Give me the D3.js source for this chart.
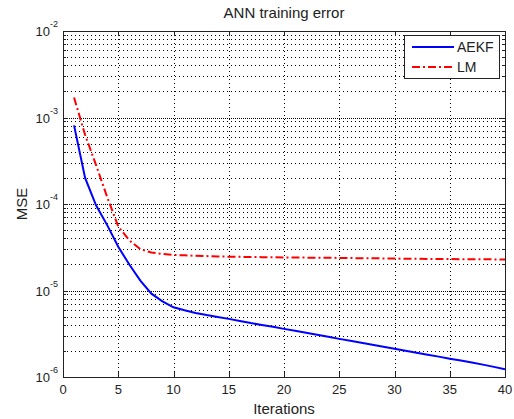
<!DOCTYPE html>
<html>
<head>
<meta charset="utf-8">
<script src="https://cdn.jsdelivr.net/npm/d3@7"></script>
<style>
  body { margin: 0; background: #fff; }
  svg { display: block; font-family: "Liberation Sans", Arial, sans-serif; }
</style>
</head>
<body>
<div id="chart"></div>
<script>
// iterations 1..40
const iterations = [1, 2, 3, 4, 5, 6, 7, 8, 9, 10,
    11, 12, 13, 14, 15, 16, 17, 18, 19, 20,
    21, 22, 23, 24, 25, 26, 27, 28, 29, 30,
    31, 32, 33, 34, 35, 36, 37, 38, 39, 40];

const aekf = [8.1e-4, 2.0e-4, 9.6e-5, 5.7e-5, 3.2e-5, 2.0e-5, 1.3e-5, 9.2e-6, 7.5e-6, 6.4e-6,
    5.9e-6, 5.5e-6, 5.2e-6, 4.95e-6, 4.7e-6, 4.45e-6, 4.2e-6, 4.0e-6, 3.8e-6, 3.6e-6,
    3.42e-6, 3.25e-6, 3.08e-6, 2.92e-6, 2.76e-6, 2.62e-6, 2.49e-6, 2.36e-6, 2.24e-6, 2.12e-6,
    2.01e-6, 1.91e-6, 1.81e-6, 1.72e-6, 1.63e-6, 1.55e-6, 1.47e-6, 1.39e-6, 1.31e-6, 1.23e-6];

const lm = [1.7e-3, 6.3e-4, 2.8e-4, 1.2e-4, 5.5e-5, 3.8e-5, 3.0e-5, 2.75e-5, 2.65e-5, 2.58e-5,
    2.55e-5, 2.52e-5, 2.5e-5, 2.48e-5, 2.46e-5, 2.45e-5, 2.44e-5, 2.43e-5, 2.42e-5, 2.41e-5,
    2.4e-5, 2.4e-5, 2.39e-5, 2.39e-5, 2.38e-5, 2.37e-5, 2.36e-5, 2.36e-5, 2.35e-5, 2.34e-5,
    2.33e-5, 2.33e-5, 2.32e-5, 2.32e-5, 2.31e-5, 2.3e-5, 2.3e-5, 2.29e-5, 2.29e-5, 2.28e-5];

const xTicks = [0, 5, 10, 15, 20, 25, 30, 35, 40];
const yDecades = [-6, -5, -4, -3, -2];
const seriesNames = ["AEKF", "LM"];

const width = 514, height = 419;
const mLeft = 63, mRight = 505, mTop = 31, mBottom = 377;

const svg = d3.select("#chart").append("svg")
    .attr("width", width)
    .attr("height", height);

const x = d3.scaleLinear().domain([0, 40]).range([mLeft, mRight]);
const y = d3.scaleLog().domain([1e-6, 1e-2]).range([mBottom, mTop]);

// minor log positions (2..9 in each decade)
const minor = [];
yDecades.slice(0, -1).forEach(e => {
    for (let k = 2; k <= 9; k++) minor.push(k * Math.pow(10, e));
});
const majors = yDecades.map(e => Math.pow(10, e));

const grid = svg.append("g")
    .attr("stroke", "#000")
    .attr("stroke-width", 1)
    .attr("stroke-dasharray", "1,3");

// horizontal grid
grid.selectAll(".hminor")
    .data(minor.concat(majors))
    .enter().append("line")
    .attr("x1", mLeft).attr("x2", mRight)
    .attr("y1", d => Math.round(y(d)) + 0.5)
    .attr("y2", d => Math.round(y(d)) + 0.5);
grid.selectAll(".hmajor")
    .data(majors)
    .enter().append("line")
    .attr("x1", mLeft + 2).attr("x2", mRight)
    .attr("y1", d => Math.round(y(d)) + 0.5)
    .attr("y2", d => Math.round(y(d)) + 0.5);

// vertical grid
grid.selectAll(".vgrid")
    .data(xTicks.slice(1, -1))
    .enter().append("line")
    .attr("y1", mTop).attr("y2", mBottom)
    .attr("x1", d => Math.round(x(d)) + 0.5)
    .attr("x2", d => Math.round(x(d)) + 0.5);

// ticks (inside, all four sides)
const ticks = svg.append("g").attr("stroke", "#222").attr("stroke-width", 1);
xTicks.forEach(t => {
    const px = Math.round(x(t)) + 0.5;
    ticks.append("line").attr("x1", px).attr("x2", px).attr("y1", mBottom).attr("y2", mBottom - 5);
    ticks.append("line").attr("x1", px).attr("x2", px).attr("y1", mTop).attr("y2", mTop + 5);
});
majors.forEach(v => {
    const py = Math.round(y(v)) + 0.5;
    ticks.append("line").attr("x1", mLeft).attr("x2", mLeft + 5).attr("y1", py).attr("y2", py);
    ticks.append("line").attr("x1", mRight).attr("x2", mRight - 5).attr("y1", py).attr("y2", py);
});
minor.forEach(v => {
    const py = Math.round(y(v)) + 0.5;
    ticks.append("line").attr("x1", mLeft).attr("x2", mLeft + 3).attr("y1", py).attr("y2", py);
    ticks.append("line").attr("x1", mRight).attr("x2", mRight - 3).attr("y1", py).attr("y2", py);
});

// box
svg.append("rect")
    .attr("x", mLeft + 0.5).attr("y", mTop + 0.5)
    .attr("width", mRight - mLeft).attr("height", mBottom - mTop)
    .attr("fill", "none")
    .attr("stroke", "#222");

// lines
const line = d3.line()
    .x((d, i) => x(iterations[i]))
    .y(d => y(d));

svg.append("path")
    .datum(lm)
    .attr("d", line)
    .attr("fill", "none")
    .attr("stroke", "#ff0000")
    .attr("stroke-width", 2)
    .attr("stroke-dasharray", "8,3,2,3");

svg.append("path")
    .datum(aekf)
    .attr("d", line)
    .attr("fill", "none")
    .attr("stroke", "#0000ff")
    .attr("stroke-width", 2);

// x tick labels
svg.selectAll(".xlab")
    .data(xTicks)
    .enter().append("text")
    .attr("x", d => x(d))
    .attr("y", 394)
    .attr("text-anchor", "middle")
    .attr("font-size", 13)
    .attr("fill", "#222")
    .text(d => d);

// y tick labels 10^e
const ylab = svg.selectAll(".ylab")
    .data(yDecades)
    .enter().append("text")
    .attr("x", 58)
    .attr("y", d => y(Math.pow(10, d)) + 5)
    .attr("text-anchor", "end")
    .attr("font-size", 13)
    .attr("fill", "#222");
ylab.append("tspan").text("10");
ylab.append("tspan")
    .attr("dy", -9)
    .attr("font-size", 9)
    .text(d => d);

// title and axis labels
svg.append("text")
    .attr("x", (mLeft + mRight) / 2)
    .attr("y", 18)
    .attr("text-anchor", "middle")
    .attr("font-size", 15)
    .attr("fill", "#222")
    .text("ANN training error");

svg.append("text")
    .attr("x", (mLeft + mRight) / 2)
    .attr("y", 414)
    .attr("text-anchor", "middle")
    .attr("font-size", 15)
    .attr("fill", "#222")
    .text("Iterations");

svg.append("text")
    .attr("transform", `translate(27, ${(mTop + mBottom) / 2}) rotate(-90)`)
    .attr("text-anchor", "middle")
    .attr("font-size", 15)
    .attr("fill", "#222")
    .text("MSE");

// legend
const legend = svg.append("g");
legend.append("rect")
    .attr("x", 404.5).attr("y", 35.5)
    .attr("width", 95).attr("height", 43)
    .attr("fill", "#fff")
    .attr("stroke", "#222");

const legendStyles = [
    { color: "#0000ff", dash: null },
    { color: "#ff0000", dash: "8,3,2,3" }
];
seriesNames.forEach((name, i) => {
    const ly = 47 + i * 20;
    legend.append("line")
        .attr("x1", 412).attr("x2", 454)
        .attr("y1", ly).attr("y2", ly)
        .attr("stroke", legendStyles[i].color)
        .attr("stroke-width", 2)
        .attr("stroke-dasharray", legendStyles[i].dash);
    legend.append("text")
        .attr("x", 457)
        .attr("y", ly + 5)
        .attr("font-size", 14)
        .attr("fill", "#222")
        .text(name);
});
</script>
</body>
</html>
